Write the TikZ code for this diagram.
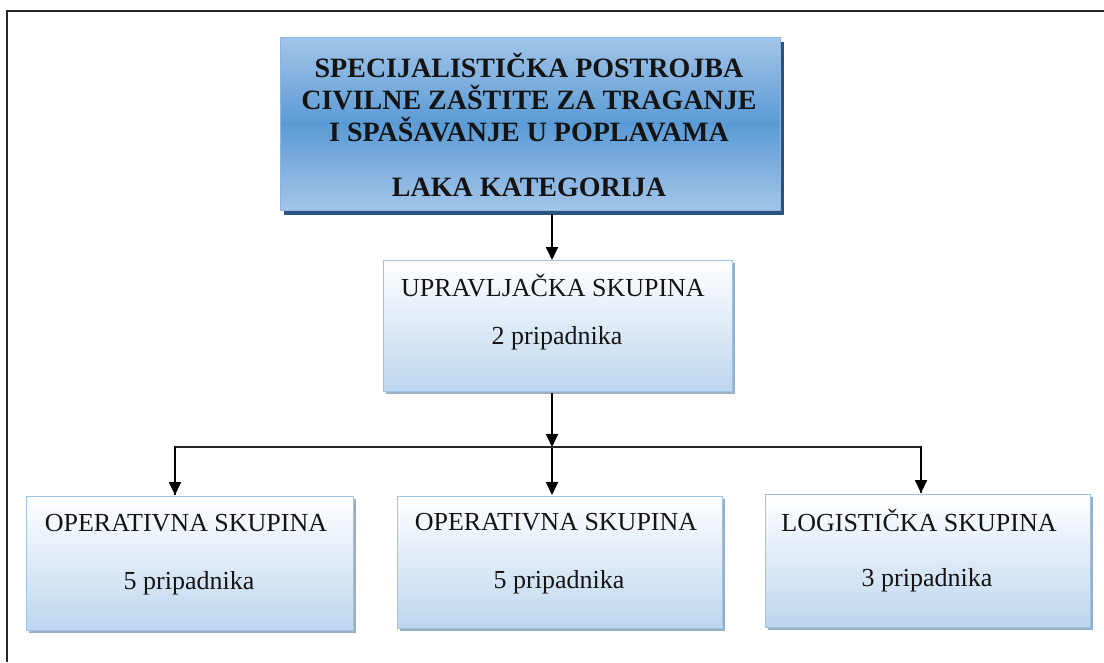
\documentclass[tikz,border=0pt]{standalone}
\usepackage{fontspec}
\setmainfont{Liberation Serif}
\usetikzlibrary{arrows.meta,shadows}
\definecolor{tlight}{HTML}{A3C5E9}
\definecolor{tmid}{HTML}{5B9BD5}
\definecolor{tborder}{HTML}{8DB4E2}
\definecolor{tshadow}{HTML}{2B5380}
\definecolor{blight}{HTML}{BDD6EE}
\definecolor{bborder}{HTML}{9DC3E6}
\definecolor{bshadow}{HTML}{9AAFC4}
\definecolor{txt}{HTML}{141414}
\tikzset{
  headbox/.style={draw=tborder, line width=1pt, top color=tlight, bottom color=tlight, middle color=tmid,
    drop shadow={shadow xshift=4pt, shadow yshift=-5pt, fill=tshadow, opacity=1}},
  groupbox/.style={draw=bborder, line width=1pt, top color=white, bottom color=blight,
    drop shadow={shadow xshift=3pt, shadow yshift=-3pt, fill=bshadow, opacity=1}},
  headtxt/.style={font=\fontsize{28}{32}\selectfont\bfseries, text=txt, inner sep=0pt},
  grptxt/.style={font=\fontsize{26}{30}\selectfont, text=txt, inner sep=0pt},
  arr/.style={-{Triangle[width=12pt,length=13pt]}, line width=1.8pt, black},
  link/.style={line width=1.5pt, black!85},
  frame/.style={line width=1.5pt, black!85}
}
\begin{document}
\begin{tikzpicture}[x=1pt,y=-1pt]
\useasboundingbox (0,0) rectangle (1104,662);
\coordinate (f1) at (7,662);
\coordinate (f2) at (7,11);
\coordinate (f3) at (1104,11);
\draw[frame] (f1) -- (f2) -- (f3);

% boxes
\node[headbox, minimum width=500pt, minimum height=173pt] (head) at (530,123.5) {};
\node[groupbox, minimum width=349pt, minimum height=131pt] (upr) at (557.5,325.5) {};
\node[groupbox, minimum width=327pt, minimum height=134pt] (op1) at (189.5,563) {};
\node[groupbox, minimum width=325pt, minimum height=132pt] (op2) at (559.5,562) {};
\node[groupbox, minimum width=325pt, minimum height=133pt] (log) at (927.5,560.5) {};

% texts
\node[headtxt] (h1) at (529,65) {SPECIJALISTIČKA POSTROJBA};
\node[headtxt] (h2) at (529,98) {CIVILNE ZAŠTITE ZA TRAGANJE};
\node[headtxt] (h3) at (529,130) {I SPAŠAVANJE U POPLAVAMA};
\node[headtxt] (h4) at (529,187) {LAKA KATEGORIJA};

\node[grptxt] (u1) at (553,286) {UPRAVLJAČKA SKUPINA};
\node[grptxt] (u2) at (557,338) {2 pripadnika};
\node[grptxt] (o11) at (186,523) {OPERATIVNA SKUPINA};
\node[grptxt] (o12) at (189,583) {5 pripadnika};
\node[grptxt] (o21) at (556,522) {OPERATIVNA SKUPINA};
\node[grptxt] (o22) at (559,582) {5 pripadnika};
\node[grptxt] (l1) at (919,520) {LOGISTIČKA SKUPINA};
\node[grptxt] (l2) at (927,580) {3 pripadnika};

% connectors
\coordinate (hs) at (552,214);
\coordinate (ut) at (552,260);
\coordinate (us) at (552,393);
\coordinate (j) at (552,447);
\coordinate (t1) at (175,495);
\coordinate (t2) at (552,495);
\coordinate (t3) at (921,493);
\draw[arr] (hs) -- (ut);
\draw[arr] (us) -- (j);
\draw[arr] (j) -- (t2);
\draw[link] (j) -| (t1);
\draw[link] (j) -| (t3);
\draw[arr] (t1 |- j) -- (t1);
\draw[arr] (t3 |- j) -- (t3);
\end{tikzpicture}
\end{document}
